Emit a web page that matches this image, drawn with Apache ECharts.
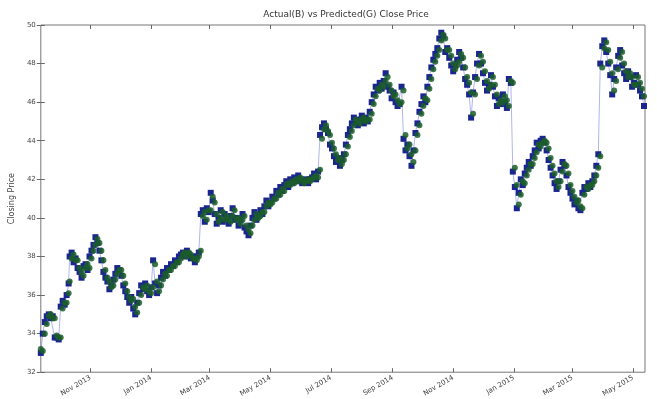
<!DOCTYPE html>
<html>
<head>
<meta charset="utf-8">
<title>Actual vs Predicted Close Price</title>
<script src="https://cdn.jsdelivr.net/npm/echarts@6/dist/echarts.min.js"></script>
<style>
  html, body { margin: 0; padding: 0; background: #fff; }
  #main { width: 657px; height: 399px; }
</style>
</head>
<body>
<div id="main"></div>
<script>
// days counted from 2013-09-12
var dayOffsets = [
  0, 2, 4, 6, 8, 10, 12, 14, 16, 18, 20, 22, 24, 26, 28,
  29, 31, 33, 35, 37, 39, 41, 43, 45, 47,
  49, 51, 53, 55, 57, 59, 61, 63, 65, 67,
  69, 71, 73, 75, 77, 79, 81, 83, 85, 87,
  89, 91, 93, 95, 97, 99, 101, 103, 105, 107,
  109, 111, 113, 115, 117, 119, 121, 123, 125, 127,
  129, 131, 133, 135, 137, 139, 141, 143, 145, 147,
  149, 151, 153, 155, 157, 159, 161, 163, 165, 167,
  169, 171, 173, 175, 177, 179, 181, 183, 185, 187,
  189, 191, 193, 195, 197, 199, 201, 203, 205, 207,
  209, 211, 213, 215, 217, 219, 221, 223, 225, 227,
  229, 231, 233, 235, 237, 239, 241, 243, 245, 247,
  249, 251, 253, 255, 257, 259, 261, 263, 265, 267,
  269, 271, 273, 275, 277, 279, 281, 283, 285, 287,
  289, 291, 293, 295, 297, 299, 301, 303, 305, 307,
  309, 311, 313, 315, 317, 319, 321, 323, 325, 327,
  329, 331, 333, 335, 337, 339, 341, 343, 345, 347,
  349, 351, 353, 355, 357, 359, 361, 363, 365, 367,
  369, 371, 373, 375, 377, 379, 381, 383, 385, 387,
  389, 391, 393, 395, 397, 399, 401, 403, 405, 407,
  409, 411, 413, 415, 417, 419, 421, 423, 425, 427,
  429, 431, 433, 435, 437, 439, 441, 443, 445, 447,
  449, 451, 453, 455, 457, 459, 461, 463, 465, 467,
  469, 471, 473, 475, 477, 479, 481, 483, 485, 487,
  489, 491, 493, 495, 497, 499, 501, 503, 505, 507,
  509, 511, 513, 515, 517, 519, 521, 523, 525, 527,
  529, 531, 533, 535, 537, 539, 541, 543, 545, 547,
  549, 551, 553, 555, 557, 559, 561, 563, 565, 567,
  569, 571, 573, 575, 577, 579, 581, 583, 585, 587,
  589, 591, 593, 595, 597, 599, 601, 603, 605, 607
];

var actual = [
  33.0, 34.0, 34.6, 34.9, 35.0, 34.8, 34.9, 33.8, 33.8, 33.7, 35.4, 35.7, 35.5, 36.0, 36.6,
  38.0, 38.2, 37.7, 37.9, 37.4, 37.2, 36.9, 37.5, 37.6, 37.3,
  38.0, 38.3, 38.6, 39.0, 38.7, 38.3, 37.8, 37.2, 36.9, 36.7,
  36.3, 36.5, 36.8, 37.1, 37.4, 37.3, 37.0, 36.5, 36.2, 35.9,
  35.6, 35.9, 35.3, 35.0, 35.6, 36.1, 36.5, 36.3, 36.6, 36.2,
  36.0, 36.4, 37.8, 36.6, 36.1, 36.5, 36.9, 37.2, 37.0, 37.4,
  37.3, 37.6, 37.5, 37.8, 37.7, 38.0, 38.1, 38.2, 38.0, 38.3,
  38.1, 37.9, 38.0, 37.7, 38.0, 38.2, 40.2, 40.4, 39.8, 40.5,
  40.3, 41.3, 40.9, 40.2, 39.7, 40.0, 40.4, 39.8, 40.2, 39.9,
  39.7, 40.1, 40.5, 39.9, 40.0, 39.6, 39.9, 40.2, 39.5, 39.3,
  39.1, 39.6, 40.0, 40.3, 39.9, 40.1, 40.4, 40.2, 40.6, 40.9,
  40.6, 40.8, 41.1, 41.0, 41.4, 41.2, 41.6, 41.4, 41.7, 41.9,
  41.6, 42.0, 41.8, 42.1, 41.9, 42.2, 42.0, 41.8, 41.9, 42.0,
  41.8, 42.0, 42.1, 42.3, 42.0, 42.4, 44.3, 44.7, 44.9, 44.6,
  44.4, 43.8, 43.6, 43.2, 42.9, 43.1, 42.7, 43.0, 43.3, 43.8,
  44.3, 44.6, 44.9, 45.2, 45.0, 44.8, 45.1, 45.3, 44.9, 45.2,
  45.0, 45.5, 46.0, 46.4, 46.8, 46.6, 47.0, 46.7, 47.1, 47.5,
  46.8, 46.6, 46.2, 46.5, 46.0, 45.8, 45.9, 46.8, 44.1, 43.5,
  43.8, 43.2, 42.7, 43.5, 44.4, 44.9, 45.5, 45.9, 46.3, 46.0,
  46.8, 47.3, 47.8, 48.2, 48.5, 48.8, 49.3, 49.6, 49.4, 48.6,
  48.8, 48.3, 47.9, 47.6, 47.9, 48.2, 48.6, 48.3, 47.8, 47.2,
  46.9, 46.4, 45.2, 46.5, 47.3, 48.0, 48.5, 48.0, 47.5, 47.0,
  46.6, 46.9, 47.4, 46.8, 46.3, 45.8, 46.2, 45.9, 46.4, 46.0,
  45.7, 47.2, 47.0, 42.4, 41.6, 40.5, 41.3, 42.0, 41.7, 42.3,
  42.6, 42.9, 42.7, 43.2, 43.5, 43.9, 43.6, 44.0, 44.1, 43.9,
  43.5, 43.0, 42.6, 42.2, 41.8, 41.5, 41.9, 42.5, 42.9, 42.7,
  42.2, 41.6, 41.3, 41.0, 40.7, 40.9, 40.5, 40.4, 41.3, 41.6,
  41.5, 41.8, 41.6, 41.9, 42.2, 42.7, 43.3, 48.0, 48.9, 49.2,
  48.6, 48.0, 47.4, 46.4, 47.2, 47.8, 48.4, 48.7, 47.9, 47.5,
  47.2, 47.6, 47.3, 46.8, 47.0, 47.4, 46.9, 46.6, 46.3, 45.8
];

var predicted = [
  33.2, 33.1, 34.0, 34.5, 34.9, 35.0, 34.8, 34.8, 33.9, 33.8, 33.8, 35.3, 35.6, 35.6, 36.1,
  36.7, 37.9, 38.1, 37.8, 37.8, 37.4, 37.2, 37.0, 37.4, 37.6,
  37.4, 37.9, 38.3, 38.6, 38.9, 38.7, 38.3, 37.8, 37.3, 36.9,
  36.7, 36.4, 36.5, 36.8, 37.1, 37.3, 37.3, 37.0, 36.6, 36.2,
  35.9, 35.7, 35.8, 35.4, 35.1, 35.6, 36.0, 36.4, 36.3, 36.5,
  36.2, 36.1, 36.4, 37.6, 36.7, 36.2, 36.5, 36.8, 37.1, 37.0,
  37.3, 37.3, 37.5, 37.5, 37.7, 37.7, 37.9, 38.1, 38.2, 38.0,
  38.2, 38.1, 37.9, 37.9, 37.8, 38.0, 38.3, 40.1, 40.3, 39.9,
  40.4, 40.4, 41.1, 40.8, 40.2, 39.8, 40.0, 40.3, 39.9, 40.1,
  39.9, 39.8, 40.1, 40.4, 39.9, 40.0, 39.7, 39.9, 40.1, 39.6,
  39.4, 39.2, 39.6, 39.9, 40.2, 40.0, 40.1, 40.3, 40.3, 40.6,
  40.8, 40.7, 40.8, 41.0, 41.0, 41.3, 41.2, 41.5, 41.4, 41.7,
  41.8, 41.7, 41.9, 41.8, 42.0, 41.9, 42.1, 42.0, 41.8, 41.9,
  42.0, 41.9, 42.0, 42.1, 42.2, 42.1, 42.5, 44.1, 44.6, 44.8,
  44.5, 44.3, 43.9, 43.6, 43.3, 43.0, 43.1, 42.8, 43.0, 43.3,
  43.7, 44.2, 44.5, 44.8, 45.1, 45.0, 44.9, 45.1, 45.2, 45.0,
  45.1, 45.1, 45.4, 45.9, 46.3, 46.7, 46.6, 46.9, 46.8, 47.1,
  47.3, 46.9, 46.6, 46.3, 46.4, 46.1, 45.9, 46.0, 46.6, 44.3,
  43.6, 43.8, 43.3, 42.9, 43.5, 44.3, 44.8, 45.4, 45.8, 46.2,
  46.1, 46.7, 47.2, 47.7, 48.1, 48.4, 48.7, 49.2, 49.5, 49.3,
  48.7, 48.7, 48.4, 48.0, 47.7, 47.9, 48.1, 48.5, 48.3, 47.8,
  47.3, 47.0, 46.5, 45.4, 46.4, 47.2, 47.9, 48.4, 48.1, 47.6,
  47.1, 46.7, 46.9, 47.3, 46.9, 46.4, 45.9, 46.1, 46.0, 46.3,
  46.1, 45.8, 47.1, 47.0, 42.6, 41.7, 40.7, 41.2, 41.9, 41.8,
  42.2, 42.5, 42.8, 42.8, 43.1, 43.4, 43.8, 43.7, 43.9, 44.0,
  43.9, 43.6, 43.1, 42.7, 42.3, 41.9, 41.6, 41.9, 42.4, 42.8,
  42.7, 42.3, 41.7, 41.4, 41.1, 40.8, 40.9, 40.6, 40.5, 41.2,
  41.6, 41.5, 41.7, 41.7, 41.9, 42.2, 42.6, 43.2, 47.8, 48.8,
  49.1, 48.7, 48.1, 47.5, 46.6, 47.1, 47.7, 48.3, 48.6, 48.0,
  47.6, 47.3, 47.5, 47.3, 46.9, 46.9, 47.3, 47.0, 46.7, 46.3
];

// x ticks: first day of every second month
var tickDays = [50, 111, 170, 231, 292, 354, 415, 476, 535, 596];
var tickLabels = ['Nov 2013', 'Jan 2014', 'Mar 2014', 'May 2014', 'Jul 2014',
                  'Sep 2014', 'Nov 2014', 'Jan 2015', 'Mar 2015', 'May 2015'];

var actualData = dayOffsets.map(function (d, i) { return [d, actual[i]]; });
var predictedData = dayOffsets.map(function (d, i) { return [d, predicted[i]]; });

var chart = echarts.init(document.getElementById('main'));

var tickStyle = { inside: true, length: 4, lineStyle: { color: '#666', width: 1 } };

chart.setOption({
    backgroundColor: '#fff',
    animation: false,
    title: {
        text: 'Actual(B) vs Predicted(G) Close Price',
        left: 341,
        top: 5,
        textAlign: 'center',
        textStyle: { fontSize: 9, fontWeight: 'normal', color: '#333', fontFamily: 'DejaVu Sans' }
    },
    grid: {
        left: 37,
        right: 12,
        top: 25,
        bottom: 22,
        show: true,
        borderColor: '#777',
        borderWidth: 1
    },
    xAxis: [{
        type: 'value',
        min: 0,
        max: 608,
        splitLine: { show: false },
        axisLine: { show: false },
        axisTick: Object.assign({ customValues: tickDays }, tickStyle),
        axisLabel: {
            customValues: tickDays,
            rotate: 30,
            fontSize: 7,
            color: '#444',
            margin: 5,
            fontFamily: 'DejaVu Sans',
            formatter: function (v) {
                var i = tickDays.indexOf(v);
                return i >= 0 ? tickLabels[i] : '';
            }
        }
    }, {
        type: 'value',
        position: 'top',
        min: 0,
        max: 608,
        splitLine: { show: false },
        axisLine: { show: false },
        axisTick: Object.assign({ customValues: tickDays }, tickStyle),
        axisLabel: { show: false }
    }],
    yAxis: [{
        type: 'value',
        min: 32,
        max: 50,
        interval: 2,
        name: 'Closing Price',
        nameLocation: 'middle',
        nameGap: 22,
        nameTextStyle: { fontSize: 8, color: '#444', fontFamily: 'DejaVu Sans' },
        splitLine: { show: false },
        axisLine: { show: false },
        axisTick: tickStyle,
        axisLabel: { fontSize: 7, color: '#444', margin: 5, fontFamily: 'DejaVu Sans' }
    }, {
        type: 'value',
        position: 'right',
        min: 32,
        max: 50,
        interval: 2,
        splitLine: { show: false },
        axisLine: { show: false },
        axisTick: tickStyle,
        axisLabel: { show: false }
    }],
    series: [
        {
            name: 'Actual',
            type: 'line',
            data: actualData,
            symbol: 'rect',
            symbolSize: 6,
            showAllSymbol: true,
            itemStyle: { color: '#1a2590' },
            lineStyle: { color: '#4a58d8', width: 0.8, opacity: 0.55 },
            z: 2
        },
        {
            name: 'Predicted',
            type: 'scatter',
            data: predictedData,
            symbol: 'circle',
            symbolSize: 6,
            itemStyle: { color: '#1b5e28', opacity: 0.85 },
            z: 3
        }
    ]
});
</script>
</body>
</html>
